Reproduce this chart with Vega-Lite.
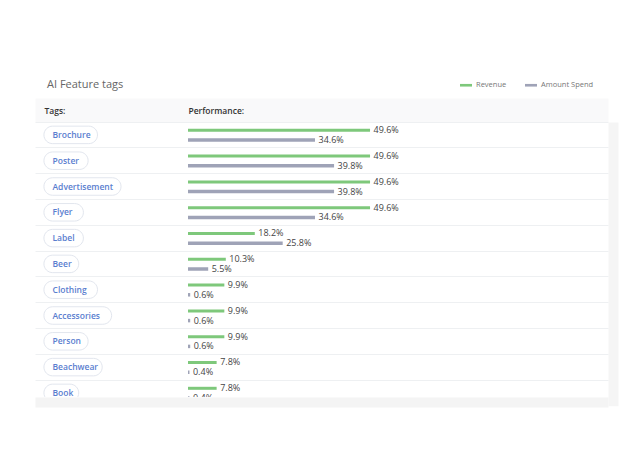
{
  "$schema": "https://vega.github.io/schema/vega-lite/v6.json",
  "width": 573,
  "height": 275,
  "autosize": {"type": "none"},
  "padding": {"left": 35, "top": 122, "right": 32, "bottom": 72},
  "background": "white",
  "config": {"font": "Open Sans", "view": {"stroke": null}},
  "title": {"text": "AI Feature tags", "anchor": "start", "frame": "group", "dx": 12, "fontSize": 11, "fontWeight": "normal", "color": "#666666", "offset": -11},
  "data": {
    "values": [
      {"tag": "Brochure", "series": "Revenue", "value": 0.496},
      {"tag": "Brochure", "series": "Amount Spend", "value": 0.346},
      {"tag": "Poster", "series": "Revenue", "value": 0.496},
      {"tag": "Poster", "series": "Amount Spend", "value": 0.398},
      {"tag": "Advertisement", "series": "Revenue", "value": 0.496},
      {"tag": "Advertisement", "series": "Amount Spend", "value": 0.398},
      {"tag": "Flyer", "series": "Revenue", "value": 0.496},
      {"tag": "Flyer", "series": "Amount Spend", "value": 0.346},
      {"tag": "Label", "series": "Revenue", "value": 0.182},
      {"tag": "Label", "series": "Amount Spend", "value": 0.258},
      {"tag": "Beer", "series": "Revenue", "value": 0.103},
      {"tag": "Beer", "series": "Amount Spend", "value": 0.055},
      {"tag": "Clothing", "series": "Revenue", "value": 0.099},
      {"tag": "Clothing", "series": "Amount Spend", "value": 0.006},
      {"tag": "Accessories", "series": "Revenue", "value": 0.099},
      {"tag": "Accessories", "series": "Amount Spend", "value": 0.006},
      {"tag": "Person", "series": "Revenue", "value": 0.099},
      {"tag": "Person", "series": "Amount Spend", "value": 0.006},
      {"tag": "Beachwear", "series": "Revenue", "value": 0.078},
      {"tag": "Beachwear", "series": "Amount Spend", "value": 0.004},
      {"tag": "Book", "series": "Revenue", "value": 0.078},
      {"tag": "Book", "series": "Amount Spend", "value": 0.004}
    ]
  },
  "layer": [
    {
      "transform": [
        {"filter": "datum.series === 'Revenue'"},
        {"calculate": "1.9", "as": "pillStart"},
        {"calculate": "5.3 + length(datum.tag)", "as": "pillEnd"}
      ],
      "mark": {"type": "bar", "height": 17.5, "cornerRadius": 8.75, "fill": "white", "stroke": "#e2e6ee", "strokeWidth": 1, "clip": true},
      "encoding": {
        "y": {
          "field": "tag", "type": "nominal", "sort": null,
          "scale": {"type": "band", "range": [0, 283.8], "paddingInner": 0, "paddingOuter": 0},
          "axis": {
            "title": "Tags:", "titleAngle": 0, "titleX": 9, "titleY": -12, "titleAlign": "left", "titleBaseline": "middle",
            "titleFontSize": 8.5, "titleFontWeight": 600, "titleColor": "#333333",
            "domain": false, "ticks": false, "labelAlign": "left", "labelPadding": -17, "labelFontSize": 8.5,
            "labelColor": "#5a7ecf", "labelFontWeight": 600, "labelBaseline": "middle", "labelOffset": 0,
            "grid": true, "gridColor": "#eef0f2", "bandPosition": 0, "zindex": 1
          }
        },
        "x": {"field": "pillStart", "type": "quantitative", "scale": {"domain": [0, 121.9], "nice": false, "zero": false},
          "axis": {"orient": "top", "offset": 12, "domain": true, "domainColor": "#f9f9fa", "domainWidth": 24, "ticks": false, "labels": false, "grid": false, "title": null, "zindex": 0}},
        "x2": {"field": "pillEnd"}
      }
    },
    {
      "encoding": {
        "y": {"field": "tag", "type": "nominal", "sort": null,
          "axis": {"orient": "right", "offset": 5, "domain": true, "domainColor": "#f5f5f5", "domainWidth": 10, "ticks": false, "labels": false, "grid": false, "title": null, "zindex": 0}},
        "x": {"field": "value", "type": "quantitative",
          "scale": {"domain": [-0.4169, 1.1444], "nice": false, "zero": false},
          "axis": {"orient": "bottom", "offset": 5, "domain": true, "domainColor": "#f4f4f4", "domainWidth": 10, "ticks": false, "labels": false, "grid": false,
            "title": "Performance:", "titleX": 153, "titleY": -292, "titleAlign": "left", "titleBaseline": "middle",
            "titleFontSize": 8.5, "titleFontWeight": 600, "titleColor": "#333333", "zindex": 1}}
      },
      "layer": [
        {
          "transform": [{"filter": "datum.series === 'Revenue'"}],
          "mark": {"type": "bar", "height": 3, "yOffset": -4.6, "clip": true},
          "encoding": {
            "color": {"field": "series", "type": "nominal",
              "scale": {"domain": ["Revenue", "Amount Spend"], "range": ["#7ec87b", "#9fa3b7"]},
              "legend": {"orient": "none", "legendX": 425, "legendY": -43, "direction": "horizontal", "title": null,
                "symbolType": "M-1,-0.22H1V0.22H-1Z", "symbolSize": 144, "symbolStrokeWidth": 0,
                "labelFontSize": 7.5, "labelColor": "#777777", "labelOffset": 4, "columnPadding": 18}}
          }
        },
        {
          "transform": [{"filter": "datum.series === 'Amount Spend'"}],
          "mark": {"type": "bar", "height": 3.5, "yOffset": 5.1, "clip": true},
          "encoding": {
            "color": {"field": "series", "type": "nominal"}
          }
        },
        {
          "transform": [{"filter": "datum.series === 'Revenue'"}],
          "mark": {"type": "text", "align": "left", "baseline": "middle", "dx": 3.5, "yOffset": -4.8, "fontSize": 9, "color": "#444444", "clip": true},
          "encoding": {"text": {"field": "value", "type": "quantitative", "format": ".1%"}}
        },
        {
          "transform": [{"filter": "datum.series === 'Amount Spend'"}],
          "mark": {"type": "text", "align": "left", "baseline": "middle", "dx": 3.5, "yOffset": 5.1, "fontSize": 9, "color": "#444444", "clip": true},
          "encoding": {"text": {"field": "value", "type": "quantitative", "format": ".1%"}}
        }
      ]
    }
  ],
  "resolve": {"scale": {"x": "independent"}, "axis": {"x": "independent", "y": "independent"}}
}
